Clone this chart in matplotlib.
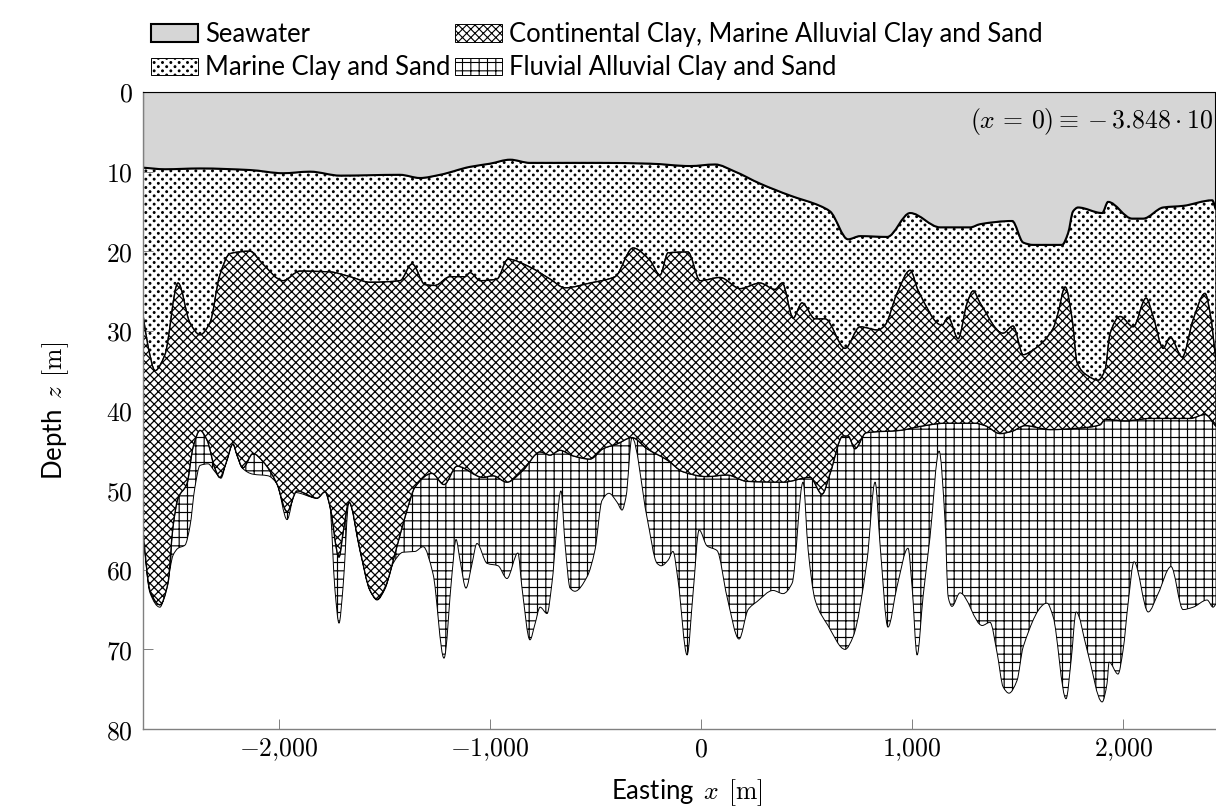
import matplotlib
matplotlib.use('Agg')
import matplotlib.pyplot as plt
import matplotlib.hatch as mhatch
import numpy as np
from matplotlib.patches import Patch, PathPatch
from matplotlib.path import Path

plt.rcParams['font.family'] = ['Lato', 'DejaVu Sans']
plt.rcParams['mathtext.fontset'] = 'cm'
plt.rcParams['hatch.linewidth'] = 0.8

# sea bed
sea_x = [-2642, -2538, -2372, -2135, -1979, -1851, -1709, -1425, -1331, -1236, -1094, -999, -904, -810, -478, -241,
         -52, 66, 161, 279, 421, 563, 611, 696, 753, 881, 990, 1132, 1274, 1321, 1473, 1525, 1572, 1709, 1738, 1761,
         1785, 1899, 1927, 2041, 2093, 2188, 2282, 2420, 2438]
sea_z = [9.5, 9.7, 9.6, 9.8, 10.2, 10.0, 10.5, 10.4, 10.8, 10.4, 9.4, 9.0, 8.5, 8.9, 8.9, 9.0,
         9.3, 9.1, 10, 11.5, 13, 14.3, 15, 18.5, 18.1, 18.2, 15.2, 17.0, 17.0, 16.6, 16.2, 18.9, 19.2, 19.2, 17.7, 15,
         14.5, 15.2, 13.8, 15.9, 15.9, 14.5, 14.3, 13.6, 14.8]

# bottom of marine clay and sand
marine_x = [-2642, -2618, -2585, -2538, -2476, -2420, -2372, -2325, -2278, -2230, -2135, -2079, -1979, -1899, -1757,
            -1662, -1567, -1425, -1368, -1307, -1260, -1188, -1117, -1094, -1046, -966, -914, -810, -715, -644, -526,
            -407, -322, -241, -194, -156, -62, -5, 90, 185, 279, 350, 384, 436, 478, 540, 587, 682, 753, 838, 871,
            928, 990, 1027, 1141, 1170, 1217, 1260, 1288, 1321, 1430, 1477, 1525, 1572, 1667, 1690, 1724, 1757, 1780,
            1828, 1880, 1913, 1937, 1984, 2046, 2107, 2140, 2188, 2221, 2278, 2330, 2386, 2410, 2438]
marine_z = [28, 32, 35, 33, 24, 29, 30.5, 29, 23, 20.3, 20, 21.5, 23.7, 22.5, 22.6,
            23.2, 23.9, 23.7, 21.6, 24.2, 24.3, 23.2, 23.2, 22.7, 23.7, 23.5, 21, 22, 23.5, 24.6, 24,
            23.2, 19.6, 21.2, 23, 20.2, 20.1, 23.7, 23.3, 24.7, 24, 24.8, 24.0, 28.4, 26.5, 28.5, 28.5, 32.2, 29.5, 29.9, 29.3,
            25.3, 22.4, 24.9, 29.3, 28.3, 31, 26.5, 25, 26.5, 30.3, 29.4, 33, 32.4, 29.7, 27.8, 24.5, 28.6, 34,
            35.6, 36.2, 34.9, 30.3, 28.2, 29.5, 25.9, 28.2, 32.2, 30.8, 33.3, 28.6, 25.3, 27.8, 33.9]

# bottom of continental clay
cont_x = [-2642, -2609, -2562, -2524, -2500, -2476, -2434, -2405, -2372, -2339, -2301, -2278, -2249, -2216, -2197,
          -2169, -2121, -2074, -2008, -1960, -1913, -1818, -1780, -1757, -1714, -1695, -1667, -1615, -1567, -1534,
          -1496, -1439, -1392, -1354, -1274, -1217, -1155, -1032, -985, -919, -843, -762, -715, -668, -606, -526,
          -464, -398, -327, -256, -161, -85, 28, 123, 218, 388, 516, 573, 611, 672, 696, 729, 781, 942, 1037, 1155,
          1297, 1345, 1416, 1473, 1534, 1653, 1795, 1889, 1913, 2008, 2126, 2315, 2386, 2438]
cont_z = [55.4, 62.6, 64.4, 61.7, 54.6, 51, 49.2, 44.6, 42.5, 43.7, 47.3, 48.4, 46.6, 44.2, 45.6,
          47.2, 45.4, 46.4, 49.2, 52.7, 50.1, 51, 50.2, 52, 58.4, 55.4, 51.5, 57.5, 62.6, 63.7,
          62.2, 57, 52.5, 49.6, 47.9, 49.3, 47, 48.4, 48.2, 49, 47.5, 45.2, 45.6, 45, 45.7, 46.1,
          44.8, 44.2, 43.4, 44.8, 46.2, 47.7, 48.3, 48.1, 48.9, 49, 48.4, 50.5, 47.9, 43.2, 43.2, 44.8, 42.8, 42.5, 42, 41.6,
          41.6, 41.9, 42.9, 42.6, 41.9, 42.4, 42.2, 41.8, 41.1, 41.3, 41.0, 41.0, 40.5, 42]

# bottom of fluvial clay
fluvial_x = [-2642, -2609, -2562, -2524, -2500, -2476, -2443, -2420, -2396, -2372, -2334, -2301, -2273, -2249, -2216,
             -2197, -2173, -2121, -2050, -2008, -1960, -1922, -1818, -1780, -1757, -1733, -1714, -1695, -1667, -1615,
             -1567, -1534, -1496, -1458, -1411, -1354, -1316, -1269, -1217, -1179, -1160, -1141, -1113, -1084, -1061,
             -1013, -961, -919, -867, -848, -810, -786, -762, -729, -706, -663, -644, -620, -597, -540, -502, -469,
             -436, -398, -374, -355, -327, -256, -208, -189, -156, -133, -109, -66, -38, -9, 28, 76, 123, 180, 223,
             265, 341, 388, 431, 483, 507, 540, 601, 682, 720, 786, 824, 848, 885, 928, 980, 999, 1023, 1051, 1084,
             1127, 1155, 1170, 1188, 1226, 1331, 1368, 1402, 1430, 1458, 1496, 1525, 1638, 1667, 1728, 1752, 1776,
             1828, 1899, 1922, 1932, 1974, 1998, 2022, 2050, 2117, 2164, 2225, 2282, 2330, 2396, 2424, 2438]
fluvial_z = [55.4, 62.9, 64.7, 61.3, 58.2, 57.3, 56.9, 54.6, 49.6, 46.9, 46.7, 47.7, 48.5, 46.6, 44.2,
             45.6, 47.2, 48, 48.2, 49.2, 53.7, 50.3, 51, 50.2, 52, 62.6, 66.7, 62.2, 51.5, 57.5,
             62.6, 63.8, 62.4, 59.2, 57.8, 57.7, 57.1, 60.5, 71.1, 60.5, 56.2, 58.8, 62.3, 59.2, 56.7,
             59.2, 59.5, 61.1, 57.9, 62.2, 68.8, 66.8, 64.7, 65.5, 61.7, 50.1, 56.7, 62.3, 62.7, 60.9, 57.5, 51.3,
             50.4, 51.5, 52.5, 50.8, 43.4, 53.4, 59.2, 59.5, 58.8, 57.7, 61.3, 70.7, 63, 55, 57, 57.6, 63.4, 68.7, 65,
             64, 62.6, 63, 61.7, 49, 57.5, 63.8, 67, 70, 68.4, 58.8, 49, 57, 67.2, 62.1, 57.3, 62.1, 70.7, 63.4, 55.9,
             45.1, 53.8, 63.4, 64.6, 62.9, 67, 66.6, 70.5, 74.7, 75.5, 73.9, 69.7, 64.2, 65.9, 76.2, 71.4, 65.3,
             70.1, 76.6, 74.3, 71.6, 73.1, 70.1, 64.2, 59, 65.3, 63, 59.6, 65, 64.7, 63.8, 64.7, 64.3]

x_ticks = [-2000, -1000, 0, 1000, 2000]
x_tick_labels = [r'$-2{,}000$', r'$-1{,}000$', r'$0$', r'$1{,}000$', r'$2{,}000$']
z_ticks = [0, 10, 20, 30, 40, 50, 60, 70, 80]
x_range = [-2642, 2438]
z_surface = [0, 0]


# pattern "dots" of tikz: rows twice as close as the columns
class DotHatch(mhatch.HatchPatternBase):
    def __init__(self, hatch, density):
        self.n = hatch.count('.') * density
        self.circle = Path.unit_circle()
        half = self.n // 2
        self.num_shapes = (half + 1) ** 2 + half ** 2 if self.n else 0
        self.num_vertices = self.num_shapes * len(self.circle.vertices)

    def set_vertices_and_codes(self, vertices, codes):
        step = 1.0 / self.n
        size = len(self.circle.vertices)
        k = 0
        for row in range(self.n + 1):
            if row % 2 == 0:
                cols = np.arange(0, self.n + 1, 2) * step
            else:
                cols = np.arange(1, self.n, 2) * step
            for col in cols:
                vertices[k:k + size] = self.circle.vertices * 0.009 + [col, row * step]
                codes[k:k + size] = self.circle.codes
                k += size


mhatch._hatch_types = [DotHatch if t is mhatch.SmallFilledCircles else t for t in mhatch._hatch_types]


def smooth_segments(x, z):
    # bezier pieces through the read points, flat at every peak so nothing overshoots
    x = np.asarray(x, dtype=float)
    z = np.asarray(z, dtype=float)
    dx = np.diff(x)
    slope = np.diff(z) / dx
    m = np.zeros(len(x))
    for i in range(1, len(x) - 1):
        if slope[i - 1] * slope[i] > 0:
            w1 = 2 * dx[i] + dx[i - 1]
            w2 = dx[i] + 2 * dx[i - 1]
            m[i] = (w1 + w2) / (w1 / slope[i - 1] + w2 / slope[i])
    m[0] = slope[0]
    m[-1] = slope[-1]
    verts = np.zeros((3 * (len(x) - 1), 2))
    verts[0::3, 0] = x[:-1] + dx / 3
    verts[0::3, 1] = z[:-1] + m[:-1] * dx / 3
    verts[1::3, 0] = x[1:] - dx / 3
    verts[1::3, 1] = z[1:] - m[1:] * dx / 3
    verts[2::3, 0] = x[1:]
    verts[2::3, 1] = z[1:]
    return verts


def layer(ax, x_top, z_top, x_bot, z_bot, **kw):
    top = smooth_segments(x_top, z_top)
    # same curve walked backwards
    bot = smooth_segments(x_bot, z_bot)[::-1]
    bot = np.vstack([bot[1:], [[x_bot[0], z_bot[0]]]])
    verts = np.vstack([[[x_top[0], z_top[0]]], top, [[x_bot[-1], z_bot[-1]]], bot, [[x_top[0], z_top[0]]]])
    codes = [Path.MOVETO] + [Path.CURVE4] * len(top) + [Path.LINETO] + [Path.CURVE4] * len(bot) + [Path.CLOSEPOLY]
    ax.add_patch(PathPatch(Path(verts, codes), edgecolor='black', **kw))


fig = plt.figure(figsize=(12.16, 8.1), dpi=100)
ax = fig.add_axes([143 / 1216, 81 / 810, 1073 / 1216, 637 / 810])

layer(ax, x_range, z_surface, sea_x, sea_z, facecolor='#d6d6d6', linewidth=1.5, zorder=4)
layer(ax, marine_x, marine_z, cont_x, cont_z, facecolor='white', hatch='xxxx', hatch_linewidth=0.9, linewidth=1.0, zorder=3)
layer(ax, sea_x, sea_z, marine_x, marine_z, facecolor='white', hatch='....', linewidth=1.0, zorder=2)
layer(ax, cont_x, cont_z, fluvial_x, fluvial_z, facecolor='white', hatch='++', hatch_linewidth=0.85, linewidth=0.7, zorder=1)

ax.set_xlim(x_range)
ax.set_ylim(80, 0)
ax.set_xticks(x_ticks)
ax.set_xticklabels(x_tick_labels, fontsize=18.5)
ax.set_yticks(z_ticks)
ax.set_yticklabels([r'$%d$' % z for z in z_ticks], fontsize=18.5)
ax.tick_params(which='both', direction='in', length=7, width=0.7, color='#808080', top=True, pad=7.5)
ax.tick_params(axis='x', pad=5.5)
ax.spines['right'].set_visible(False)
for side in ['left', 'bottom']:
    ax.spines[side].set_color('#808080')
    ax.spines[side].set_linewidth(1.0)
for side in ['left', 'bottom', 'top']:
    ax.spines[side].set_zorder(5)
ax.spines['top'].set_color('black')
ax.set_axisbelow(False)

ax.set_xlabel(r'Easting $\,x\,$ $[\mathrm{m}]$', fontsize=18.5, labelpad=10, x=(687 - 143) / 1073)
ax.set_ylabel(r'Depth $\,z\,$ $[\mathrm{m}]$', fontsize=18.5, labelpad=25)
ax.text(1275, 3.7, r'$(x\,=\,0)\equiv-3.848\cdot 10^{7}$', fontsize=18.5, va='center', ha='left',
        zorder=6, clip_on=False)

handles = [Patch(facecolor='#d6d6d6', edgecolor='black', linewidth=1.5, label='Seawater'),
           Patch(facecolor='white', edgecolor='black', hatch='....', linewidth=0.7, label='Marine Clay and Sand'),
           Patch(facecolor='white', edgecolor='black', hatch='xxxx', linewidth=0.7,
                 label='Continental Clay, Marine Alluvial Clay and Sand'),
           Patch(facecolor='white', edgecolor='black', hatch='++', linewidth=0.7, label='Fluvial Alluvial Clay and Sand')]
fig.legend(handles=handles, ncol=2, loc='upper left', bbox_to_anchor=(151 / 1216, 1 - 22 / 810), frameon=False,
           fontsize=18.45, handlelength=1.83, handleheight=0.66, handletextpad=0.27, columnspacing=0.2, labelspacing=0.33,
           borderpad=0, borderaxespad=0)

fig.savefig('out.png', dpi=100)
